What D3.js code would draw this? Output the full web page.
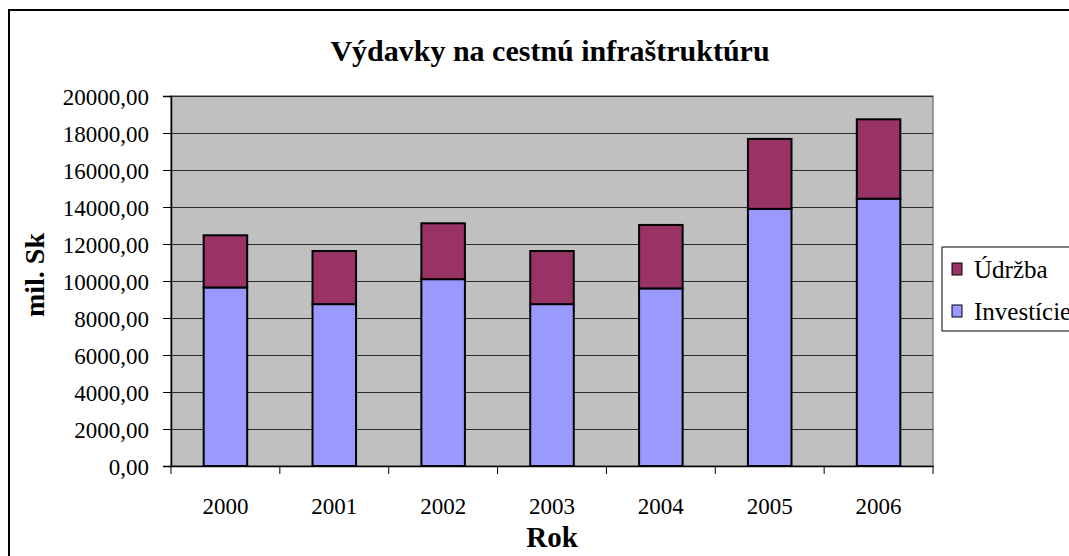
<!DOCTYPE html>
<html>
<head>
    <title>Výdavky na cestnú infraštruktúru</title>
    <script src="https://cdnjs.cloudflare.com/ajax/libs/d3/7.8.5/d3.min.js"></script>
    <style>
        body {
            margin: 0;
            background: white;
            overflow: hidden;
        }
        svg text {
            font-family: "Liberation Serif", "Times New Roman", serif;
            fill: black;
        }
        .tick-label {
            font-size: 23px;
        }
        .axis-title {
            font-size: 29px;
            font-weight: bold;
        }
        .chart-title {
            font-size: 30px;
            font-weight: bold;
        }
    </style>
</head>
<body>
    <div id="chart"></div>
    <script>
        const years = ["2000", "2001", "2002", "2003", "2004", "2005", "2006"];
        const investicie = [9650, 8750, 10100, 8750, 9600, 13900, 14450];
        const udrzba = [2820, 2870, 3020, 2870, 3430, 3780, 4290];
        const yTicks = [0, 2000, 4000, 6000, 8000, 10000, 12000, 14000, 16000, 18000, 20000];
        const seriesNames = ["Investície", "Údržba"];
        const seriesColors = ["#9999ff", "#993366"];

        const W = 1069, H = 556;
        const plot = { left: 171, right: 933, top: 96, bottom: 466 };
        const serif = '"Liberation Serif", "Times New Roman", serif';

        const svg = d3.select("#chart")
            .append("svg")
            .attr("width", W)
            .attr("height", H);

        // outer chart frame (runs off the right and bottom edges)
        svg.append("rect")
            .attr("x", 9)
            .attr("y", 10)
            .attr("width", 1100)
            .attr("height", 600)
            .attr("fill", "white")
            .attr("stroke", "black")
            .attr("stroke-width", 2);

        const x = d3.scaleBand()
            .domain(years)
            .range([plot.left, plot.right])
            .paddingInner(0.6)
            .paddingOuter(0.3);

        const y = d3.scaleLinear()
            .domain([0, 20000])
            .range([plot.bottom, plot.top]);

        // plot area
        svg.append("rect")
            .attr("x", plot.left)
            .attr("y", plot.top)
            .attr("width", plot.right - plot.left)
            .attr("height", plot.bottom - plot.top)
            .attr("fill", "#c0c0c0")
            .attr("stroke", "#808080")
            .attr("stroke-width", 1.5);

        // gridlines
        svg.append("g")
            .selectAll("line")
            .data(yTicks.filter(d => d > 0))
            .join("line")
            .attr("x1", plot.left)
            .attr("x2", plot.right)
            .attr("y1", d => y(d) + 0.5)
            .attr("y2", d => y(d) + 0.5)
            .attr("stroke", "#2b2b2b")
            .attr("stroke-width", 1);

        // stacked bars
        const table = years.map((yr, i) => ({ year: yr, "Investície": investicie[i], "Údržba": udrzba[i] }));
        const stacked = d3.stack().keys(seriesNames)(table);

        svg.append("g")
            .selectAll("g")
            .data(stacked)
            .join("g")
            .attr("fill", (d, i) => seriesColors[i])
            .selectAll("rect")
            .data(d => d)
            .join("rect")
            .attr("x", d => x(d.data.year))
            .attr("y", d => y(d[1]))
            .attr("width", x.bandwidth())
            .attr("height", d => y(d[0]) - y(d[1]))
            .attr("stroke", "black")
            .attr("stroke-width", 2);

        // y axis
        const yAxis = svg.append("g")
            .attr("transform", `translate(${plot.left},0)`)
            .call(d3.axisLeft(y)
                .tickValues(yTicks)
                .tickSize(8)
                .tickPadding(14)
                .tickFormat(d => d.toFixed(2).replace(".", ",")));
        yAxis.select(".domain").attr("stroke", "black").attr("stroke-width", 1.5);
        yAxis.selectAll(".tick line").attr("stroke", "black");
        yAxis.selectAll("text")
            .attr("class", "tick-label")
            .attr("dy", "0.36em")
            .style("font-family", serif);

        // x axis: ticks sit between categories
        const step = x.step();
        const xAxis = svg.append("g")
            .attr("transform", `translate(0,${plot.bottom})`)
            .call(d3.axisBottom(x).tickSize(0).tickPadding(32));
        xAxis.select(".domain").attr("stroke", "black").attr("stroke-width", 1.5);
        xAxis.selectAll("text")
            .attr("class", "tick-label")
            .style("font-family", serif);
        xAxis.selectAll(".sep")
            .data(d3.range(years.length + 1))
            .join("line")
            .attr("x1", i => plot.left + i * step)
            .attr("x2", i => plot.left + i * step)
            .attr("y1", 0)
            .attr("y2", 8)
            .attr("stroke", "black");

        // titles
        svg.append("text")
            .attr("class", "chart-title")
            .attr("x", 550)
            .attr("y", 61)
            .attr("text-anchor", "middle")
            .style("font-family", serif)
            .text("Výdavky na cestnú infraštruktúru");

        svg.append("text")
            .attr("class", "axis-title")
            .attr("x", 552)
            .attr("y", 547)
            .attr("text-anchor", "middle")
            .style("font-family", serif)
            .text("Rok");

        svg.append("text")
            .attr("class", "axis-title")
            .attr("transform", "translate(44,275) rotate(-90)")
            .attr("text-anchor", "middle")
            .style("font-family", serif)
            .style("font-size", "28px")
            .text("mil. Sk");

        // legend (clipped by the right edge, as in the original)
        const legend = svg.append("g").attr("transform", "translate(942,247)");
        legend.append("rect")
            .attr("width", 200)
            .attr("height", 84)
            .attr("fill", "white")
            .attr("stroke", "black")
            .attr("stroke-width", 1);

        const legendItems = [
            { name: seriesNames[1], color: seriesColors[1] },
            { name: seriesNames[0], color: seriesColors[0] }
        ];
        const li = legend.selectAll(".item")
            .data(legendItems)
            .join("g")
            .attr("transform", (d, i) => `translate(10,${16 + i * 42})`);
        li.append("rect")
            .attr("width", 10)
            .attr("height", 12)
            .attr("fill", d => d.color)
            .attr("stroke", "black")
            .attr("stroke-width", 1);
        li.append("text")
            .attr("class", "tick-label")
            .attr("x", 22)
            .attr("y", 15)
            .style("font-family", serif)
            .style("font-size", "25px")
            .text(d => d.name);
    </script>
</body>
</html>
